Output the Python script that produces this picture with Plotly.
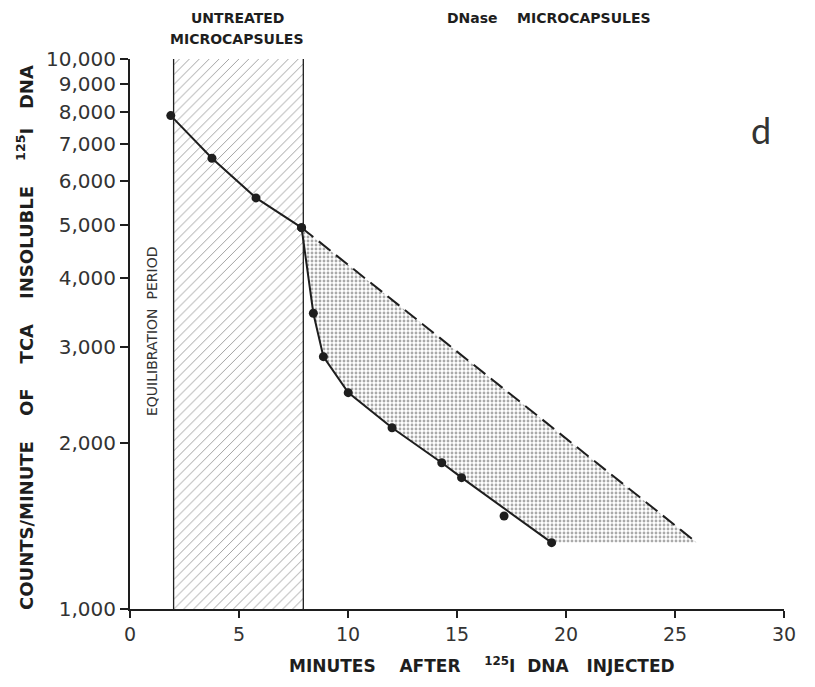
import plotly.graph_objects as go

# ---- data ----
equilibration_x = [2.0, 7.95]          # untreated-microcapsule period (minutes)
y_range_vals = [1000, 10000]

untreated_x = [1.87, 3.76, 5.78, 7.87]
untreated_y = [7890, 6600, 5590, 4935]

dnase_x = [7.87, 8.41, 8.87, 10.01, 12.02, 14.3, 15.21, 19.34]
dnase_y = [4935, 3450, 2876, 2474, 2136, 1845, 1733, 1320]

outlier_x = [17.16]
outlier_y = [1476]

dashed_x = [7.87, 26.0]
dashed_y = [4935, 1320]

y_tick_vals = [1000, 2000, 3000, 4000, 5000, 6000, 7000, 8000, 9000, 10000]
y_tick_text = ["1,000", "2,000", "3,000", "4,000", "5,000", "6,000", "7,000", "8,000", "9,000", "10,000"]
x_tick_vals = [0, 5, 10, 15, 20, 25, 30]

INK = "#1e1e1e"
FONT = "DejaVu Sans"

fig = go.Figure()

# hatched equilibration region
fig.add_trace(go.Scatter(
    x=[equilibration_x[0], equilibration_x[1], equilibration_x[1], equilibration_x[0], equilibration_x[0]],
    y=[y_range_vals[0], y_range_vals[0], y_range_vals[1], y_range_vals[1], y_range_vals[0]],
    mode="lines", line=dict(width=0), fill="toself", fillcolor="rgba(0,0,0,0)",
    fillpattern=dict(shape="/", size=7, solidity=0.13, fgcolor="#333", bgcolor="white"),
    hoverinfo="skip", showlegend=False))
for xv in equilibration_x:
    fig.add_trace(go.Scatter(x=[xv, xv], y=y_range_vals, mode="lines",
                             line=dict(color=INK, width=1.3), hoverinfo="skip", showlegend=False))

# stippled region between DNase curve and extrapolation
poly_x = dashed_x + [dnase_x[-1]] + dnase_x[::-1]
poly_y = dashed_y + [dnase_y[-1]] + dnase_y[::-1]
fig.add_trace(go.Scatter(
    x=poly_x, y=poly_y, mode="lines", line=dict(width=0), fill="toself",
    fillpattern=dict(shape=".", size=4, solidity=0.4, fgcolor="#555", bgcolor="white"),
    hoverinfo="skip", showlegend=False))

# extrapolated dashed line
fig.add_trace(go.Scatter(x=dashed_x, y=dashed_y, mode="lines",
                         line=dict(color=INK, width=2, dash="15px,7px"), showlegend=False))

# untreated line + points
fig.add_trace(go.Scatter(x=untreated_x, y=untreated_y, mode="lines+markers",
                         line=dict(color=INK, width=2), marker=dict(size=9, color=INK),
                         showlegend=False))
# DNase curve + points
fig.add_trace(go.Scatter(x=dnase_x, y=dnase_y, mode="lines+markers",
                         line=dict(color=INK, width=2), marker=dict(size=9, color=INK),
                         showlegend=False))
fig.add_trace(go.Scatter(x=outlier_x, y=outlier_y, mode="markers",
                         marker=dict(size=9, color=INK), showlegend=False))

fig.update_layout(
    width=815, height=687,
    margin=dict(l=130, r=31, t=59, b=78),
    paper_bgcolor="white", plot_bgcolor="white",
    font=dict(family=FONT, color=INK),
    xaxis=dict(range=[0, 30], tickvals=x_tick_vals, showgrid=False, zeroline=False,
               showline=True, linecolor=INK, linewidth=2, ticks="outside", ticklen=7,
               tickwidth=2, tickcolor=INK, tickfont=dict(size=19, family=FONT, color="#333")),
    yaxis=dict(type="log", range=[3, 4], tickvals=y_tick_vals, ticktext=y_tick_text,
               showgrid=False, zeroline=False, showline=True, linecolor=INK, linewidth=2,
               ticks="outside", ticklen=8, tickwidth=2, tickcolor=INK,
               tickfont=dict(size=20, family=FONT, color="#333")),
)

NB = "\u00a0"
ann = []
ann.append(dict(text=f"COUNTS/MINUTE{NB*4}OF{NB*4}TCA{NB*4}INSOLUBLE{NB*4}<sup>125</sup>I{NB*3}DNA",
                x=25, y=338, textangle=-90,
                font=dict(size=18, family=FONT, color=INK, weight="bold")))
ann.append(dict(text=f"MINUTES{NB*4}AFTER{NB*4}<sup>125</sup>I{NB*2}DNA{NB*3}INJECTED",
                x=482, y=665, font=dict(size=17, family=FONT, color=INK, weight="bold")))
ann.append(dict(text="UNTREATED", x=237, y=18, font=dict(size=14, family=FONT, color=INK, weight="bold")))
ann.append(dict(text="MICROCAPSULES", x=237, y=39, font=dict(size=14, family=FONT, color=INK, weight="bold")))
ann.append(dict(text=f"DNase{NB*4}MICROCAPSULES", x=549, y=18, font=dict(size=14, family=FONT, color=INK, weight="bold")))
ann.append(dict(text="d", x=761, y=130, font=dict(size=36, family="Lato", color="#333")))
ann.append(dict(text=f"EQUILIBRATION{NB*2}PERIOD", x=152, y=332, textangle=-90,
                font=dict(size=14, family=FONT, color="#333")))

# convert pixel positions to paper coords
L, R, T, B = 130, 784, 59, 609
for a in ann:
    px, py = a["x"], a["y"]
    a["xref"] = "paper"; a["yref"] = "paper"
    a["x"] = (px - L) / (R - L)
    a["y"] = (B - py) / (B - T)
    a["xanchor"] = "center"; a["yanchor"] = "middle"
    a["showarrow"] = False
fig.update_layout(annotations=ann)

fig.write_html("out.html")
